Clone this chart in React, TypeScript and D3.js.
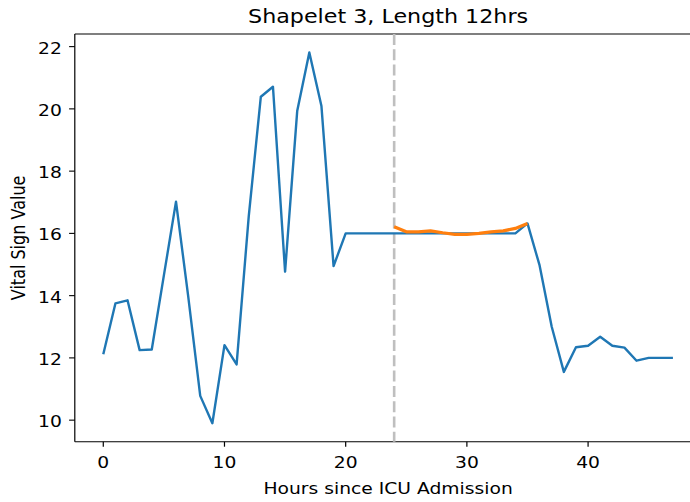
import { useEffect, useRef } from 'react';
import * as d3 from 'd3';

// hours 0..47
const hours = d3.range(0, 48);
const vitals = [
  12.12, 13.75, 13.85, 12.25, 12.27, 14.65, 17.02, 14.0, 10.78, 9.9,
  12.41, 11.79, 16.54, 20.39, 20.71, 14.77, 19.93, 21.81, 20.09, 14.95,
  16.0, 16.0, 16.0, 16.0, 16.0, 16.0, 16.0, 16.0, 16.0, 16.0,
  16.0, 16.0, 16.0, 16.0, 16.0, 16.32, 14.97, 13.0, 11.55, 12.34,
  12.39, 12.68, 12.39, 12.33, 11.91, 12.0, 12.0, 12.0,
];
// shapelet overlay, hours 24..35
const shapeletStart = 24;
const shapelet = [16.21, 16.05, 16.05, 16.08, 16.02, 15.97, 15.97, 16.0, 16.05, 16.08, 16.16, 16.32];
const xTicks = [0, 10, 20, 30, 40];
const yTicks = [10, 12, 14, 16, 18, 20, 22];

// the picture is a bit wider than tall, so text is stretched sideways
const STRETCH = 1.17;

const App = () => {
  const ref = useRef<SVGSVGElement>(null);

  useEffect(() => {
    const svg = d3.select(ref.current);
    svg.selectAll('*').remove();

    const left = 74.8, top = 34, bottom = 441.8;
    // matplotlib-like 5% margins
    const xPad = (47 - 0) * 0.05;
    const yMin = d3.min(vitals)!, yMax = d3.max(vitals)!;
    const yPad = (yMax - yMin) * 0.05;
    const x = d3.scaleLinear().domain([-xPad, 47 + xPad]).range([left, left + 51.7 * 12.12]);
    const y = d3.scaleLinear().domain([yMin - yPad, yMax + yPad]).range([bottom, top]);
    const midX = (x.range()[0] + x.range()[1]) / 2;

    const font = 'DejaVu Sans, sans-serif';

    const label = (px: number, py: number, txt: string, size: number, anchor: string, rot = 0) =>
      svg.append('text')
        .attr('transform', `translate(${px},${py}) scale(${STRETCH},1) rotate(${rot})`)
        .attr('text-anchor', anchor)
        .attr('font-family', font).attr('font-size', size).attr('fill', '#000')
        .text(txt);

    // spines (right side runs off the picture)
    svg.append('line').attr('x1', left).attr('x2', left).attr('y1', top).attr('y2', bottom)
      .attr('stroke', '#000').attr('stroke-width', 1.2);
    svg.append('line').attr('x1', left).attr('x2', 690).attr('y1', bottom).attr('y2', bottom)
      .attr('stroke', '#000').attr('stroke-width', 1.1);
    svg.append('line').attr('x1', left).attr('x2', 690).attr('y1', top).attr('y2', top)
      .attr('stroke', '#000').attr('stroke-width', 1.1);

    // x ticks
    xTicks.forEach(t => {
      svg.append('line').attr('x1', x(t)).attr('x2', x(t)).attr('y1', bottom).attr('y2', bottom + 4.9)
        .attr('stroke', '#000').attr('stroke-width', 1.2);
      label(x(t), bottom + 26.5, String(t), 16, 'middle');
    });

    // y ticks
    yTicks.forEach(t => {
      svg.append('line').attr('x1', left - 5.7).attr('x2', left).attr('y1', y(t)).attr('y2', y(t))
        .attr('stroke', '#000').attr('stroke-width', 1.1);
      label(left - 13, y(t) + 7, String(t), 16, 'end');
    });

    // shapelet start marker
    svg.append('line').attr('x1', x(shapeletStart)).attr('x2', x(shapeletStart))
      .attr('y1', top).attr('y2', bottom)
      .attr('stroke', '#bfbfbf').attr('stroke-width', 2.6).attr('stroke-dasharray', '11,4.3');

    const line = d3.line<number>()
      .x((_, i) => x(hours[i]))
      .y(d => y(d));

    svg.append('path').datum(vitals)
      .attr('fill', 'none').attr('stroke', '#1f77b4').attr('stroke-width', 2.4)
      .attr('stroke-linejoin', 'round').attr('d', line);

    const sLine = d3.line<number>()
      .x((_, i) => x(shapeletStart + i))
      .y(d => y(d));

    svg.append('path').datum(shapelet)
      .attr('fill', 'none').attr('stroke', '#ff7f0e').attr('stroke-width', 3.2)
      .attr('stroke-linejoin', 'round').attr('d', sLine);

    // labels
    label(midX, 23, 'Shapelet 3, Length 12hrs', 19, 'middle');
    label(midX, 494, 'Hours since ICU Admission', 16, 'middle');
    label(25, (top + bottom) / 2, 'Vital Sign Value', 16, 'middle', -90);
  }, []);

  return (
    <svg ref={ref} width={690} height={502}
      style={{ position: 'absolute', left: 0, top: 0, background: '#fff' }} />
  );
};

export default App;
